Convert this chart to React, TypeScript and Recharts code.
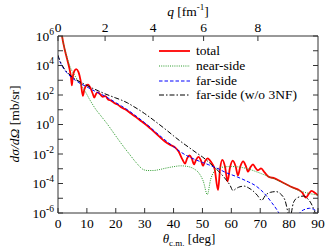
import React from 'react';
import { LineChart, Line, XAxis, YAxis, Legend } from 'recharts';

document.body.style.margin = '0';

const FONT = "'Liberation Serif', 'Times New Roman', serif";
const AXIS = '#333';

// theta_cm [deg] / dsigma/dOmega [mb/sr]
const totalTheta = [0.8, 1.4, 2.3, 3.2, 4.0, 4.5, 4.8, 5.1, 5.6, 6.3, 7.1, 7.8, 8.6, 9.1, 9.7, 10.4, 11.3, 12.0, 12.6, 13.1, 13.8, 14.6, 15.5, 16.4, 17.4, 18.4, 19.5, 20.6, 22, 23.5, 25, 27, 29, 31, 33, 35, 37, 39, 40.5, 41.8, 43.0, 44.0, 44.7, 45.5, 46.3, 47.1, 47.8, 48.6, 49.4, 50.2, 51.0, 51.8, 53.0, 54.2, 55.4, 56.1, 56.9, 57.8, 58.7, 59.5, 60.5, 61.5, 62.3, 63.1, 64.1, 65.0, 65.8, 66.6, 67.5, 68.4, 69.2, 70.3, 71.5, 73, 75, 77, 79, 81, 83, 84.5, 85.8, 86.8, 87.8, 89, 90];
const totalXs = [7.94e6, 1e6, 1.26e5, 2.51e4, 5.62e3, 1.58e3, 447, 1580, 3980, 5620, 3550, 1000, 89.1, 224, 417, 501, 282, 126, 66.1, 112, 151, 112, 75.9, 83.2, 47.9, 41.7, 28.2, 22.4, 14.1, 10, 6.03, 3.16, 1.58, 0.794, 0.355, 0.158, 0.0708, 0.0398, 0.0282, 0.0141, 4.47e-3, 2.24e-3, 5.01e-3, 7.94e-3, 5.01e-3, 2.0e-3, 3.98e-3, 6.31e-3, 3.98e-3, 1.58e-3, 3.55e-3, 5.01e-3, 2.82e-3, 1e-3, 3.55e-5, 1e-3, 3.98e-3, 1.41e-3, 1.41e-4, 1.12e-3, 3.55e-3, 1.41e-3, 3.55e-4, 1.41e-3, 3.16e-3, 1.58e-3, 6.31e-4, 1.26e-3, 2.0e-3, 1.12e-3, 7.94e-4, 1.05e-3, 5.62e-4, 2.82e-4, 2.24e-4, 1.41e-4, 8.91e-5, 5.62e-5, 3.98e-5, 2.51e-5, 1.12e-5, 2.0e-5, 3.16e-5, 2.24e-5, 1.58e-5];

const nearTheta = [0.8, 1.4, 2.3, 3.2, 4.2, 5.5, 7, 9, 11, 13, 15, 17, 19, 21, 23, 25, 27, 29.5, 31, 33, 35, 37.5, 40, 42.5, 45, 47, 48.8, 50.3, 51.7, 52.8, 54, 55.5, 57.5, 60, 62.5, 65, 67.5, 70, 72.5, 75, 77.5, 80, 82.5, 85, 87.5, 90];
const nearXs = [1e7, 1e6, 1.41e5, 3.16e4, 7.94e3, 2.63e3, 891, 240, 47.9, 11.2, 3.55, 1.12, 0.316, 0.0891, 0.0263, 8.32e-3, 2.69e-3, 8.91e-4, 7.59e-4, 7.59e-4, 8.71e-4, 1.12e-3, 1.38e-3, 1.58e-3, 1.41e-3, 1e-3, 5.01e-4, 1.41e-4, 1.78e-5, 1.78e-4, 6.31e-4, 1.05e-3, 1.32e-3, 1.41e-3, 1.32e-3, 1.07e-3, 7.59e-4, 5.01e-4, 3.16e-4, 2.0e-4, 1.2e-4, 7.08e-5, 3.98e-5, 2.63e-5, 2.0e-5, 1.66e-5];

const farTheta = [0, 0.5, 1, 2, 3, 4.5, 6, 8, 10, 12, 14, 16, 18, 20, 22, 24, 26, 28, 30, 32, 34, 36, 38, 40, 42, 44, 46, 48, 50, 52, 54, 56, 58, 60, 62, 64, 66, 68, 70, 72, 74, 76, 77.5, 79, 81, 83, 84, 85.5, 87, 88.5, 90];
const farXs = [4.47e4, 2.24e4, 1.32e4, 6.03e3, 3.31e3, 1.66e3, 1e3, 562, 355, 214, 138, 89.1, 52.5, 30.2, 17.8, 10, 5.25, 2.69, 1.32, 0.631, 0.282, 0.132, 0.0631, 0.0316, 0.0158, 8.91e-3, 5.62e-3, 3.8e-3, 2.69e-3, 1.91e-3, 1.32e-3, 8.91e-4, 5.62e-4, 3.98e-4, 2.82e-4, 1.91e-4, 1.26e-4, 7.94e-5, 3.98e-5, 1.58e-5, 5.01e-6, 1.41e-6, 3.98e-7, 6.31e-8, 6.31e-8, 6.31e-7, 1.2e-6, 1.78e-6, 2.09e-6, 1.78e-6, 1.12e-6];

const farNo3nfTheta = [0, 0.5, 1, 2, 3, 4.5, 6, 8, 10, 12, 14, 16, 18, 20, 22, 24, 26, 28, 30, 32, 34, 36, 38, 40, 42, 44, 46, 48, 50, 52, 54, 56, 58, 59.5, 60.6, 61.6, 63, 64.5, 66, 67.5, 69, 70.5, 71.8, 73.5, 75.5, 77, 78.5, 80.3, 81.5, 83, 85, 86.5, 88, 89.5, 90];
const farNo3nfXs = [5.01e4, 2.51e4, 1.51e4, 6.76e3, 3.8e3, 2.0e3, 1.17e3, 708, 447, 282, 191, 126, 89.1, 63.1, 44.7, 29.5, 17.4, 10, 5.5, 2.88, 1.45, 0.724, 0.355, 0.17, 0.0832, 0.0427, 0.0224, 0.0117, 6.31e-3, 3.02e-3, 1.32e-3, 5.62e-4, 2.0e-4, 7.94e-5, 3.31e-5, 4.47e-5, 6.03e-5, 6.61e-5, 5.01e-5, 3.16e-5, 1.58e-5, 7.08e-6, 1.58e-5, 2.51e-5, 2.82e-5, 2.0e-5, 7.94e-6, 5.01e-7, 5.01e-6, 1.12e-5, 1.41e-5, 8.91e-6, 3.16e-6, 3.98e-7, 1e-7];

const xTicks = [0, 10, 20, 30, 40, 50, 60, 70, 80, 90];
const yTicks = [1e-6, 1e-5, 1e-4, 1e-3, 1e-2, 1e-1, 1, 1e1, 1e2, 1e3, 1e4, 1e5, 1e6];
// momentum transfer axis on top: theta positions of the q ticks
const qTickTheta = [0, 16.3, 32.9, 50.4, 69.2];
const qTickLabels = ['0', '2', '4', '6', '8'];

const series = [
  { name: 'total', theta: totalTheta, values: totalXs, color: '#ff0000', width: 1.8, dash: undefined },
  { name: 'near-side', theta: nearTheta, values: nearXs, color: '#2a9a2a', width: 1, dash: '1 1.2' },
  { name: 'far-side', theta: farTheta, values: farXs, color: '#0000ff', width: 1, dash: '3.5 2' },
  { name: 'far-side (w/o 3NF)', theta: farNo3nfTheta, values: farNo3nfXs, color: '#000000', width: 1, dash: '5 2 1.5 2' },
];

const toRows = (theta: number[], values: number[]) => theta.map((t, i) => ({ theta: t, value: values[i] }));

function LeftTick(props: any) {
  const { x, y, payload } = props;
  const exp = Math.round(Math.log10(payload.value));
  return (
    <g>
      <line x1={x} y1={y} x2={x + 5} y2={y} stroke={AXIS} />
      {exp % 2 === 0 && (
        <text x={x - 4} y={y + 4.5} textAnchor="end" fontFamily={FONT} fontSize={13.5} fill="#000">
          10<tspan dy={-6} fontSize={9.5}>{exp}</tspan>
        </text>
      )}
    </g>
  );
}

function RightTick(props: any) {
  const { x, y } = props;
  return <line x1={x - 5} y1={y} x2={x} y2={y} stroke={AXIS} />;
}

function BottomTick(props: any) {
  const { x, y, payload } = props;
  return (
    <g>
      <line x1={x} y1={y} x2={x} y2={y - 5} stroke={AXIS} />
      <text x={x} y={y + 15} textAnchor="middle" fontFamily={FONT} fontSize={13.5} fill="#000">
        {payload.value}
      </text>
    </g>
  );
}

function TopTick(props: any) {
  const { x, y, index } = props;
  return (
    <g>
      <line x1={x} y1={y} x2={x} y2={y + 5} stroke={AXIS} />
      <text x={x} y={y - 4.5} textAnchor="middle" fontFamily={FONT} fontSize={13.5} fill="#000">
        {qTickLabels[index]}
      </text>
    </g>
  );
}

function YTitle() {
  return (
    <text transform="translate(19,124) rotate(-90)" textAnchor="middle" fontFamily={FONT} fontSize={13.5} fill="#000">
      <tspan fontStyle="italic">dσ/dΩ</tspan> [mb/sr]
    </text>
  );
}

function XTitle() {
  return (
    <text x={189} y={242.5} textAnchor="middle" fontFamily={FONT} fontSize={13} fill="#000">
      <tspan fontStyle="italic">θ</tspan>
      <tspan fontSize={9} dy={3}>c.m.</tspan>
      <tspan dy={-3}> [deg]</tspan>
    </text>
  );
}

function QTitle() {
  return (
    <text x={188} y={16} textAnchor="middle" fontFamily={FONT} fontSize={13.5} fill="#000">
      <tspan fontStyle="italic">q</tspan> [fm<tspan dy={-6} fontSize={9}>-1</tspan>
      <tspan dy={6}>]</tspan>
    </text>
  );
}

function LegendBox() {
  return (
    <div style={{ fontFamily: FONT, fontSize: 13.5, color: '#000' }}>
      {series.map((s) => (
        <div key={s.name} style={{ display: 'flex', alignItems: 'center', height: 14.7 }}>
          <svg width={40} height={14}>
            <line x1={4} y1={7} x2={35} y2={7} stroke={s.color} strokeWidth={s.width} strokeDasharray={s.dash} />
          </svg>
          <span style={{ marginLeft: 1, whiteSpace: 'nowrap' }}>{s.name}</span>
        </div>
      ))}
    </div>
  );
}

export default function App() {
  return (
    <LineChart width={332} height={251} margin={{ top: 0, right: 0, bottom: 0, left: 0 }}>
      <XAxis
        xAxisId="bottom"
        dataKey="theta"
        type="number"
        domain={[0, 90]}
        allowDataOverflow
        ticks={xTicks}
        interval={0}
        height={38}
        tickSize={0}
        tickMargin={0}
        tickLine={false}
        axisLine={{ stroke: AXIS }}
        tick={<BottomTick />}
        label={<XTitle />}
      />
      <XAxis
        xAxisId="top"
        orientation="top"
        dataKey="theta"
        type="number"
        domain={[0, 90]}
        allowDataOverflow
        ticks={qTickTheta}
        interval={0}
        height={36}
        tickSize={0}
        tickMargin={0}
        tickLine={false}
        axisLine={{ stroke: AXIS }}
        tick={<TopTick />}
        label={<QTitle />}
      />
      <YAxis
        yAxisId="left"
        type="number"
        scale="log"
        domain={[1e-6, 1e6]}
        allowDataOverflow
        ticks={yTicks}
        interval={0}
        width={58}
        tickSize={0}
        tickMargin={0}
        tickLine={false}
        axisLine={{ stroke: AXIS }}
        tick={<LeftTick />}
        label={<YTitle />}
      />
      <YAxis
        yAxisId="right"
        orientation="right"
        type="number"
        scale="log"
        domain={[1e-6, 1e6]}
        allowDataOverflow
        ticks={yTicks}
        interval={0}
        width={14}
        tickSize={0}
        tickMargin={0}
        tickLine={false}
        axisLine={{ stroke: AXIS }}
        tick={<RightTick />}
      />
      {series.map((s) => (
        <Line
          key={s.name}
          name={s.name}
          xAxisId="bottom"
          yAxisId="left"
          data={toRows(s.theta, s.values)}
          dataKey="value"
          type="monotone"
          stroke={s.color}
          strokeWidth={s.width}
          strokeDasharray={s.dash}
          dot={false}
          activeDot={false}
          isAnimationActive={false}
        />
      ))}
      <Legend
        layout="horizontal"
        verticalAlign="middle"
        align="center"
        content={<LegendBox />}
        wrapperStyle={{ top: 44, left: 155, width: 175 }}
      />
    </LineChart>
  );
}
